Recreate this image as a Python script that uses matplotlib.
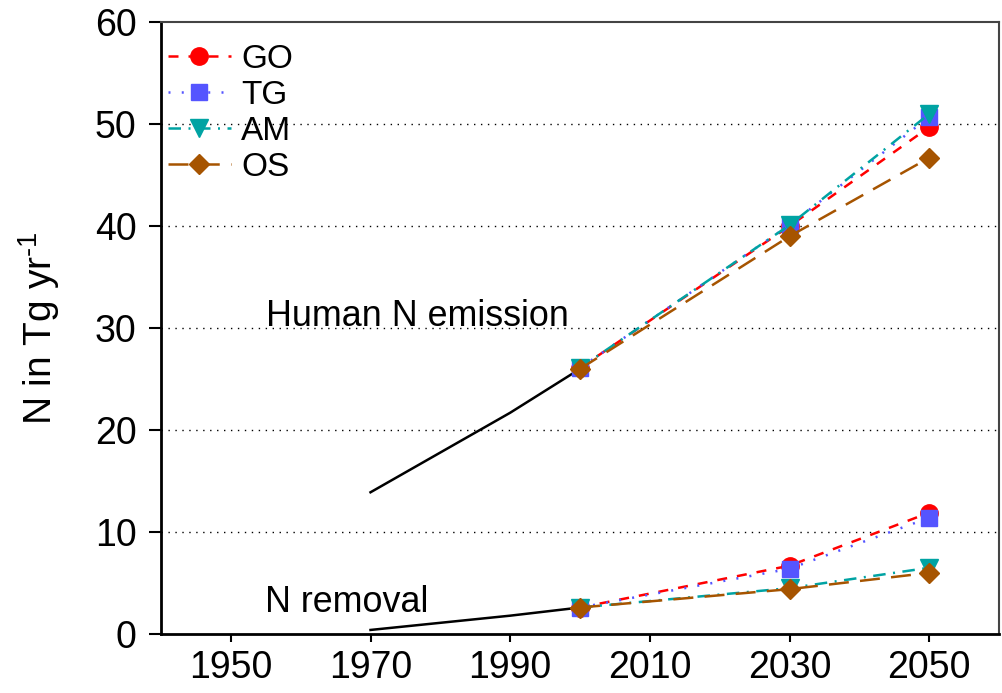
import numpy as np
import matplotlib
matplotlib.use("Agg")
import matplotlib.pyplot as plt

plt.rcParams['font.family'] = ['Liberation Sans', 'DejaVu Sans']
plt.rcParams['mathtext.fontset'] = 'custom'
plt.rcParams['mathtext.rm'] = 'Liberation Sans'
plt.rcParams['mathtext.it'] = 'Liberation Sans'

# historical (black lines)
hist_years = [1970, 1990, 2000]
hist_emission = [13.9, 21.7, 26.0]
hist_removal = [0.4, 1.8, 2.6]

# scenarios
scen_years = [2000, 2030, 2050]
scenarios = ['GO', 'TG', 'AM', 'OS']
emission = {
    'GO': [26.1, 40.0, 49.7],
    'TG': [26.1, 40.1, 50.7],
    'AM': [26.1, 40.1, 51.0],
    'OS': [26.0, 39.0, 46.7],
}
removal = {
    'GO': [2.6, 6.7, 11.9],
    'TG': [2.6, 6.4, 11.4],
    'AM': [2.6, 4.5, 6.5],
    'OS': [2.6, 4.4, 6.0],
}

colors = {'GO': '#ff0000', 'TG': '#5555ff', 'AM': '#00a3a3', 'OS': '#a65400'}
markers = {'GO': 'o', 'TG': 's', 'AM': 'v', 'OS': 'D'}
msizes = {'GO': 12.5, 'TG': 11.5, 'AM': 12.5, 'OS': 10.5}
dashes = {'GO': (4, 4), 'TG': (0.8, 4.5), 'AM': (5, 3, 0.8, 3), 'OS': (8, 4.5)}

fig = plt.figure(figsize=(10.02, 6.93), dpi=100)
ax = fig.add_axes([0.1607, 0.0851, 0.8363, 0.8829])

ax.plot(hist_years, hist_emission, color='black', lw=1.8)
ax.plot(hist_years, hist_removal, color='black', lw=1.8)

for s in scenarios:
    ax.plot(scen_years, emission[s], color=colors[s], lw=1.8, dashes=dashes[s],
            marker=markers[s], ms=msizes[s], label=s)
    ax.plot(scen_years, removal[s], color=colors[s], lw=1.8, dashes=dashes[s],
            marker=markers[s], ms=msizes[s])

ax.set_xlim(1940, 2060)
ax.set_ylim(0, 60)
ax.set_xticks(np.arange(1950, 2051, 20))
ax.set_yticks(np.arange(0, 61, 10))
ax.tick_params(axis='both', labelsize=27, direction='out', width=1.5)
ax.tick_params(axis='y', length=8.5, pad=9)
ax.tick_params(axis='x', length=5.5, pad=6)

for y in range(10, 60, 10):
    ax.axhline(y, color='black', lw=1.0, linestyle=(0, (1, 4)), zorder=0)

ax.spines['left'].set_linewidth(2.0)
ax.spines['bottom'].set_linewidth(2.0)
for side in ['top', 'right']:
    ax.spines[side].set_linewidth(1.5)
    ax.spines[side].set_color('#444444')

ax.set_ylabel(r'N in Tg yr$^{\text{-1}}$', fontsize=28, labelpad=24)

ax.text(1955.1, 30.2, 'Human N emission', fontsize=25.8, va='baseline')
ax.text(1954.9, 2.2, 'N removal', fontsize=25.8, va='baseline')

ax.legend(loc='upper left', frameon=False, fontsize=24, handlelength=1.9,
          handletextpad=0.3, labelspacing=0.15, borderaxespad=0.0,
          borderpad=0.2, bbox_to_anchor=(0.0, 0.975))

fig.savefig('out.png', dpi=100)
